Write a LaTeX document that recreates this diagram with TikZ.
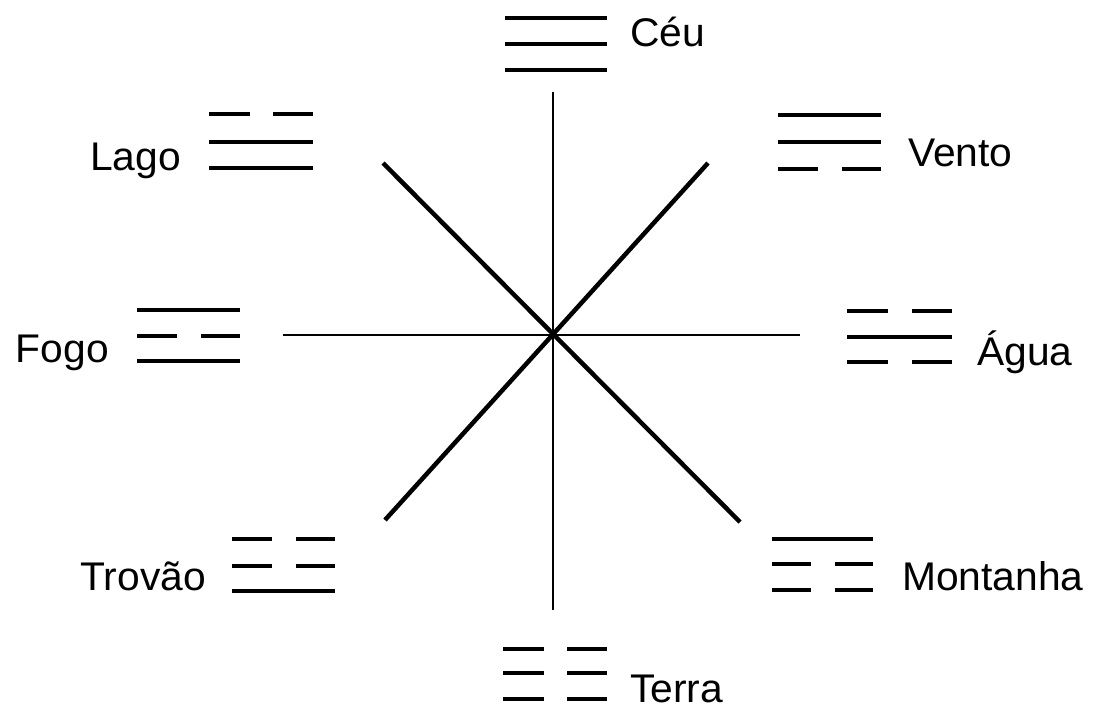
\documentclass[tikz,border=0pt]{standalone}
\usepackage{fontspec}
\setmainfont[FakeStretch=1.02]{Liberation Sans}
\newcommand{\yangln}[3]{\draw[trig] (#1,#3) -- (#2,#3);}
\newcommand{\yinln}[3]{\draw[trig] (#1,#3) -- ($(#1,#3)!0.39!(#2,#3)$); \draw[trig] ($(#1,#3)!0.62!(#2,#3)$) -- (#2,#3);}
\usetikzlibrary{calc}
\tikzset{
  trig/.style={line width=3.2pt, line cap=butt},
  axis/.style={line width=2pt},
  diag/.style={line width=4.5pt},
  lbl/.style={inner sep=0pt, font=\fontsize{40}{40}\selectfont}
}
\begin{document}
\begin{tikzpicture}[x=1pt,y=-1pt]
\useasboundingbox (0,0) rectangle (1098,710);
% axis end points
\coordinate (c) at (553,335);
\coordinate (n) at (553,92);
\coordinate (s) at (553,610);
\coordinate (w) at (283,335);
\coordinate (e) at (800,335);
\coordinate (nw) at (383,163);
\coordinate (se) at (740,522);
\coordinate (ne) at (708,163);
\coordinate (sw) at (385,520);
\draw[axis] (n) -- (s);
\draw[axis] (w) -- (e);
\draw[diag] (nw) -- (se);
\draw[diag] (ne) -- (sw);
% Ceu
\yangln{505}{607}{18}\yangln{505}{607}{44}\yangln{505}{607}{70}
\node[lbl, anchor=base west] (ceu) at (630,46) {Céu};
% Vento
\yangln{778}{881}{115}\yangln{778}{881}{142}\yinln{778}{881}{169}
\node[lbl, anchor=base west] (vento) at (908,166) {Vento};
% Lago
\yinln{209}{313}{114}\yangln{209}{313}{142}\yangln{209}{313}{168}
\node[lbl, anchor=base east] (lago) at (181,170) {Lago};
% Fogo
\yangln{137}{240}{310}\yinln{137}{240}{336}\yangln{137}{240}{361}
\node[lbl, anchor=base east] (fogo) at (109,362) {Fogo};
% Agua
\yinln{847}{952}{311}\yangln{847}{952}{337}\yinln{847}{952}{362}
\node[lbl, anchor=base west] (agua) at (977,365) {Água};
% Trovao
\yinln{232}{335}{539}\yinln{232}{335}{566}\yangln{232}{335}{591}
\node[lbl, anchor=base east] (trovao) at (206,590) {Trovão};
% Montanha
\yangln{772}{873}{539}\yinln{772}{873}{564}\yinln{772}{873}{590}
\node[lbl, anchor=base west] (montanha) at (902,590) {Montanha};
% Terra
\yinln{503}{607}{649}\yinln{503}{607}{673}\yinln{503}{607}{699}
\node[lbl, anchor=base west] (terra) at (630,702) {Terra};
\end{tikzpicture}
\end{document}
